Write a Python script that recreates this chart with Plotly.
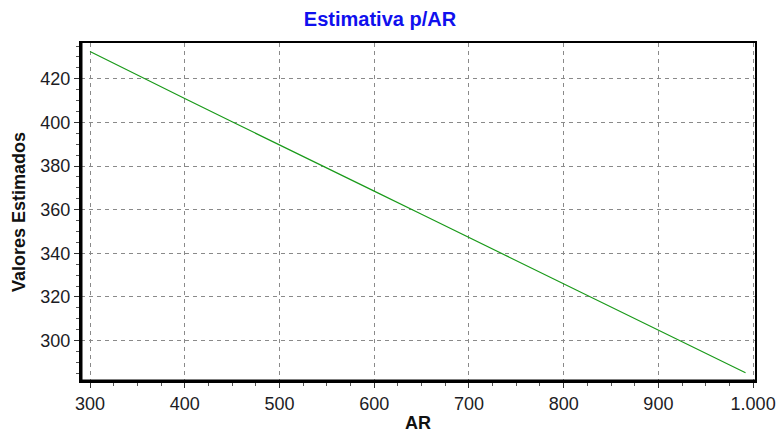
import plotly.graph_objects as go

ar_values = [300, 350, 400, 450, 500, 550, 600, 650, 700, 750, 800, 850, 900, 950, 992]
estimated = [432.5, 421.9, 411.0, 400.3, 389.8, 379.2, 368.5, 357.9, 347.3, 336.6, 326.0, 315.4, 304.8, 294.2, 285.3]

x_ticks = [300, 400, 500, 600, 700, 800, 900, 1000]
x_tick_text = ["300", "400", "500", "600", "700", "800", "900", "1.000"]
y_ticks = [300, 320, 340, 360, 380, 400, 420]
y_tick_text = ["300", "320", "340", "360", "380", "400", "420"]

fig = go.Figure()
fig.add_trace(go.Scatter(x=ar_values, y=estimated, mode="lines",
                         line=dict(color="#1a9a1a", width=1.2), showlegend=False))

font_main = "Liberation Sans, Arial, sans-serif"
fig.update_layout(
    width=779, height=446,
    margin=dict(l=81, r=24, t=43, b=65),
    paper_bgcolor="white", plot_bgcolor="white",
    title=dict(text="<b>Estimativa p/AR</b>", xref="container", x=380 / 779, xanchor="center",
               yref="container", y=1 - 19 / 446, yanchor="middle",
               font=dict(family=font_main, size=20, color="#1010ee")),
    font=dict(family=font_main, size=18, color="#1c1c24"),
)
fig.update_xaxes(
    range=[290.5, 1002], tickvals=x_ticks, ticktext=x_tick_text,
    showline=True, linecolor="black", linewidth=2, mirror=True,
    ticks="outside", ticklen=5, tickcolor="#333", tickwidth=1,
    minor=dict(dtick=25, ticks="outside", ticklen=3, tickcolor="#555", showgrid=False),
    showgrid=True, gridcolor="#8a8a8a", griddash="4px,4px", gridwidth=1,
    zeroline=False, automargin=False,
    title=dict(text="<b>AR</b>", font=dict(family=font_main, size=18, color="#111"), standoff=4),
)
fig.update_yaxes(
    range=[281.5, 436.4], tickvals=y_ticks, ticktext=y_tick_text,
    showline=True, linecolor="black", linewidth=2, mirror=True,
    ticks="outside", ticklen=5, tickcolor="#333", tickwidth=1,
    minor=dict(dtick=5, ticks="outside", ticklen=3, tickcolor="#555", showgrid=False),
    showgrid=True, gridcolor="#8a8a8a", griddash="4px,4px", gridwidth=1,
    zeroline=False, automargin=False,
    title=dict(text="<b>Valores Estimados</b>", font=dict(family=font_main, size=18, color="#111"), standoff=10),
)
# thicker left and bottom axis lines
fig.add_shape(type="line", xref="paper", yref="paper", x0=0, x1=0, y0=0, y1=1,
              line=dict(color="black", width=3))
fig.add_shape(type="line", xref="paper", yref="paper", x0=0, x1=1, y0=0, y1=0,
              line=dict(color="black", width=3))

fig.write_html("out.html", config={"displayModeBar": False},
               post_script="document.body.style.margin='0';")
